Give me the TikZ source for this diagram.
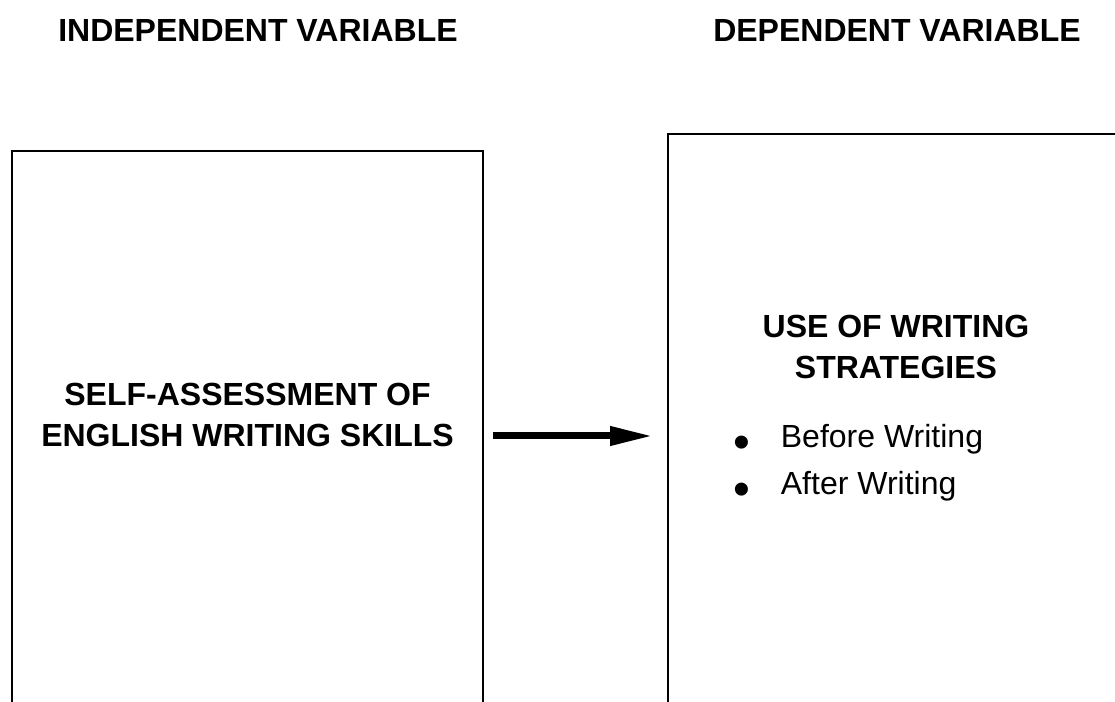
\documentclass[tikz,border=0pt]{standalone}
\usepackage{fontspec}
\setmainfont{Liberation Sans}
\usepackage{tikz}
\usetikzlibrary{arrows.meta, positioning}

\newcommand{\bigbullet}{\makebox[23.75pt][l]{\raisebox{-5.5pt}{\fontsize{24}{24}\selectfont\textbullet}}}

\begin{document}
\begin{tikzpicture}[
    x=0.5pt, y=0.5pt,
    frame/.style={rectangle, draw, line width=1pt, inner sep=0pt},
    head/.style={font=\fontsize{16}{20.5}\selectfont\bfseries, align=center, inner sep=0pt},
    item/.style={font=\fontsize{16}{20}\selectfont, inner sep=0pt, anchor=base west},
    arrow/.style={-{Triangle[length=21.5pt, width=9pt]}, line width=3.5pt}
]
    \fill[white] (0,0) rectangle (1115,702);
    \useasboundingbox (0,0) rectangle (1115,702);

    % the two boxes run off the page at the bottom (and on the right)
    \node[frame, minimum width=235.5pt, minimum height=285pt, anchor=north west]
      (indepbox) at (11,552) {};
    \node[frame, minimum width=228pt, minimum height=302pt, anchor=north west]
      (depbox) at (667,569) {};

    \node[head, anchor=base] (indeptitle) at (258,660) {INDEPENDENT VARIABLE};
    \node[head, anchor=base] (deptitle) at (897,660) {DEPENDENT VARIABLE};

    \node[head] (selfassess) at ([yshift=10.5pt]indepbox.center)
      {SELF-ASSESSMENT OF\\ENGLISH WRITING SKILLS};
    \node[head] (strategies) at ([yshift=44.75pt]depbox.center)
      {USE OF WRITING\\STRATEGIES};

    \node[item] (before) at (733,254) {\bigbullet Before Writing};
    \node[item] (after) at (733,207) {\bigbullet After Writing};

    \draw[arrow, shorten <=4.5pt, shorten >=7pt] (indepbox) -- (depbox);
\end{tikzpicture}
\end{document}
